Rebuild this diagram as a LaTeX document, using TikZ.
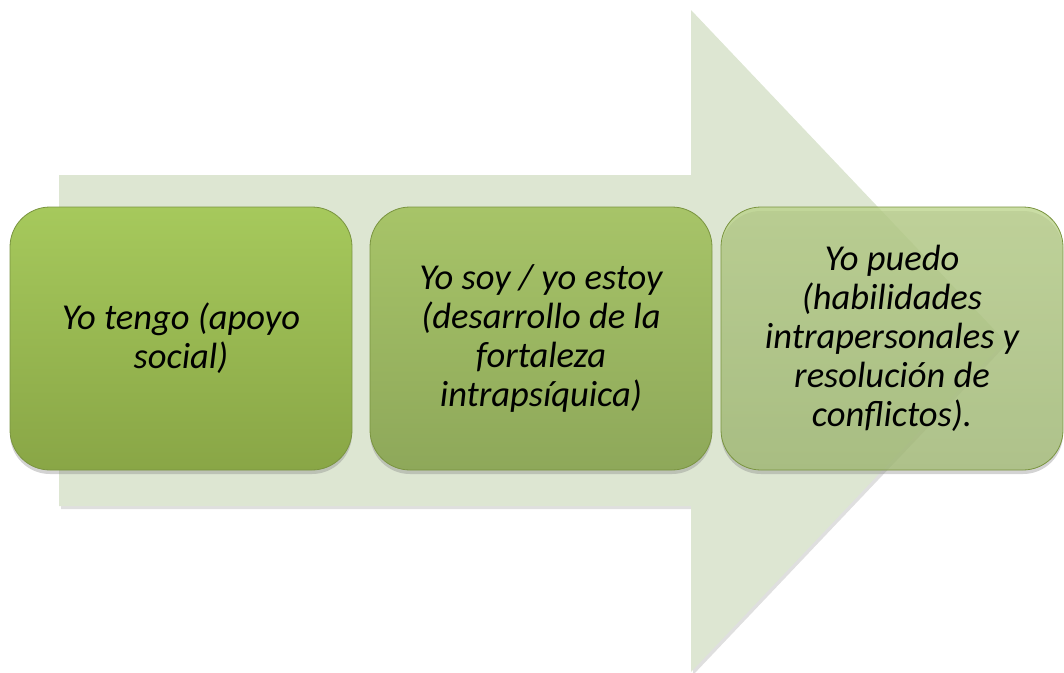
\documentclass[tikz,border=0pt]{standalone}
\usepackage{fontspec}
\setmainfont{Carlito}
\usetikzlibrary{shadows}
\definecolor{flecha}{HTML}{DDE6D2}
\definecolor{verdeA}{HTML}{A6C95C}
\definecolor{verdeB}{HTML}{89A646}
\definecolor{verdeC}{HTML}{A7C468}
\definecolor{verdeD}{HTML}{8EA85A}
\definecolor{verdeE}{HTML}{B8D186}
\definecolor{verdeF}{HTML}{A2BC72}
\definecolor{borde}{HTML}{7A9440}
\begin{document}
\begin{tikzpicture}[x=1pt, y=-1pt,
    caja/.style={rounded corners=40pt, minimum width=342pt, minimum height=263pt,
      inner sep=0pt, align=center, draw=borde, line width=0.8pt,
      font=\fontsize{36.5}{39}\selectfont\itshape,
      drop shadow={shadow xshift=0pt, shadow yshift=-4pt, opacity=0.35}}]
    \useasboundingbox (0,0) rectangle (1064,672);

    % Flecha
    \fill[flecha, drop shadow={shadow xshift=2pt, shadow yshift=-3pt, opacity=0.25}]
      (59,175) -- (691,175) -- (691,10) -- (1005,341) -- (691,672)
      -- (691,506) -- (59,506) -- cycle;

    % Cajas
    \node[caja, top color=verdeA, bottom color=verdeB] (tengo) at (181,338.5)
      {Yo tengo (apoyo\\social)};
    \node[caja, top color=verdeC, bottom color=verdeD] (soy) at (541,338.5)
      {Yo soy / yo estoy\\(desarrollo de la\\fortaleza\\intrapsíquica)};
    \node[caja, top color=verdeE, bottom color=verdeF, fill opacity=0.75,
      text opacity=1] (puedo) at (892,338.5)
      {Yo puedo\\(habilidades\\intrapersonales y\\resolución de\\conflictos).};
\end{tikzpicture}
\end{document}
